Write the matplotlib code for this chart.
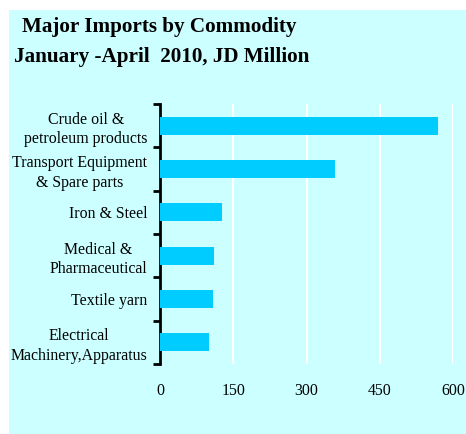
import matplotlib
matplotlib.use("Agg")
import matplotlib.pyplot as plt
from matplotlib.patches import Rectangle

categories = [
    "Crude oil &\npetroleum products",
    "Transport Equipment\n& Spare parts",
    "Iron & Steel",
    "Medical &\nPharmaceutical",
    "Textile yarn",
    "Electrical\nMachinery,Apparatus",
]
values = [569, 358, 127, 110, 108, 100]
xticks = [0, 150, 300, 450, 600]

plt.rcParams["font.family"] = ["Liberation Serif", "DejaVu Serif"]

W, H = 466, 434
fig = plt.figure(figsize=(W / 100, H / 100), dpi=100)
fig.patch.set_facecolor("white")
fig.add_artist(Rectangle((9 / W, 0), 1 - 9 / W, 1 - 10 / H,
                         transform=fig.transFigure, facecolor="#CCFFFF",
                         edgecolor="none", zorder=0))

ax = fig.add_axes([160 / W, 1 - 364 / H, (453 - 160) / W, (364 - 104) / H])
ax.set_facecolor("none")

n = len(categories)
ypos = list(range(n))
ax.barh(ypos, values, height=0.42, color="#00CCFF", zorder=3)
ax.set_ylim(n - 0.5, -0.5)
ax.set_xlim(0, 600)

for x in xticks[1:]:
    ax.axvline(x, color="white", lw=1.5, zorder=1)

for s in ["top", "right", "bottom"]:
    ax.spines[s].set_visible(False)
ax.spines["left"].set_linewidth(2)
ax.spines["left"].set_color("black")

ax.set_yticks([i - 0.5 for i in range(n + 1)], minor=False)
ax.set_yticklabels([])
ax.tick_params(axis="y", which="major", length=5, width=2, direction="out", color="black")
ax.set_yticks(ypos, minor=True)
ax.set_yticklabels(categories, minor=True, fontsize=11.4, multialignment="center",
                   linespacing=1.3)
ax.tick_params(axis="y", which="minor", length=0, pad=9)

ax.set_xticks(xticks)
ax.set_xticklabels([str(v) for v in xticks], fontsize=11.4)
ax.tick_params(axis="x", length=0, pad=14)

fig.text(22 / W, 1 - 27 / H, "Major Imports by Commodity", fontsize=15.2,
         fontweight="bold", va="center", ha="left")
fig.text(14 / W, 1 - 57 / H, "January -April  2010, JD Million", fontsize=15.2,
         fontweight="bold", va="center", ha="left")

fig.savefig("out.png", dpi=100)
